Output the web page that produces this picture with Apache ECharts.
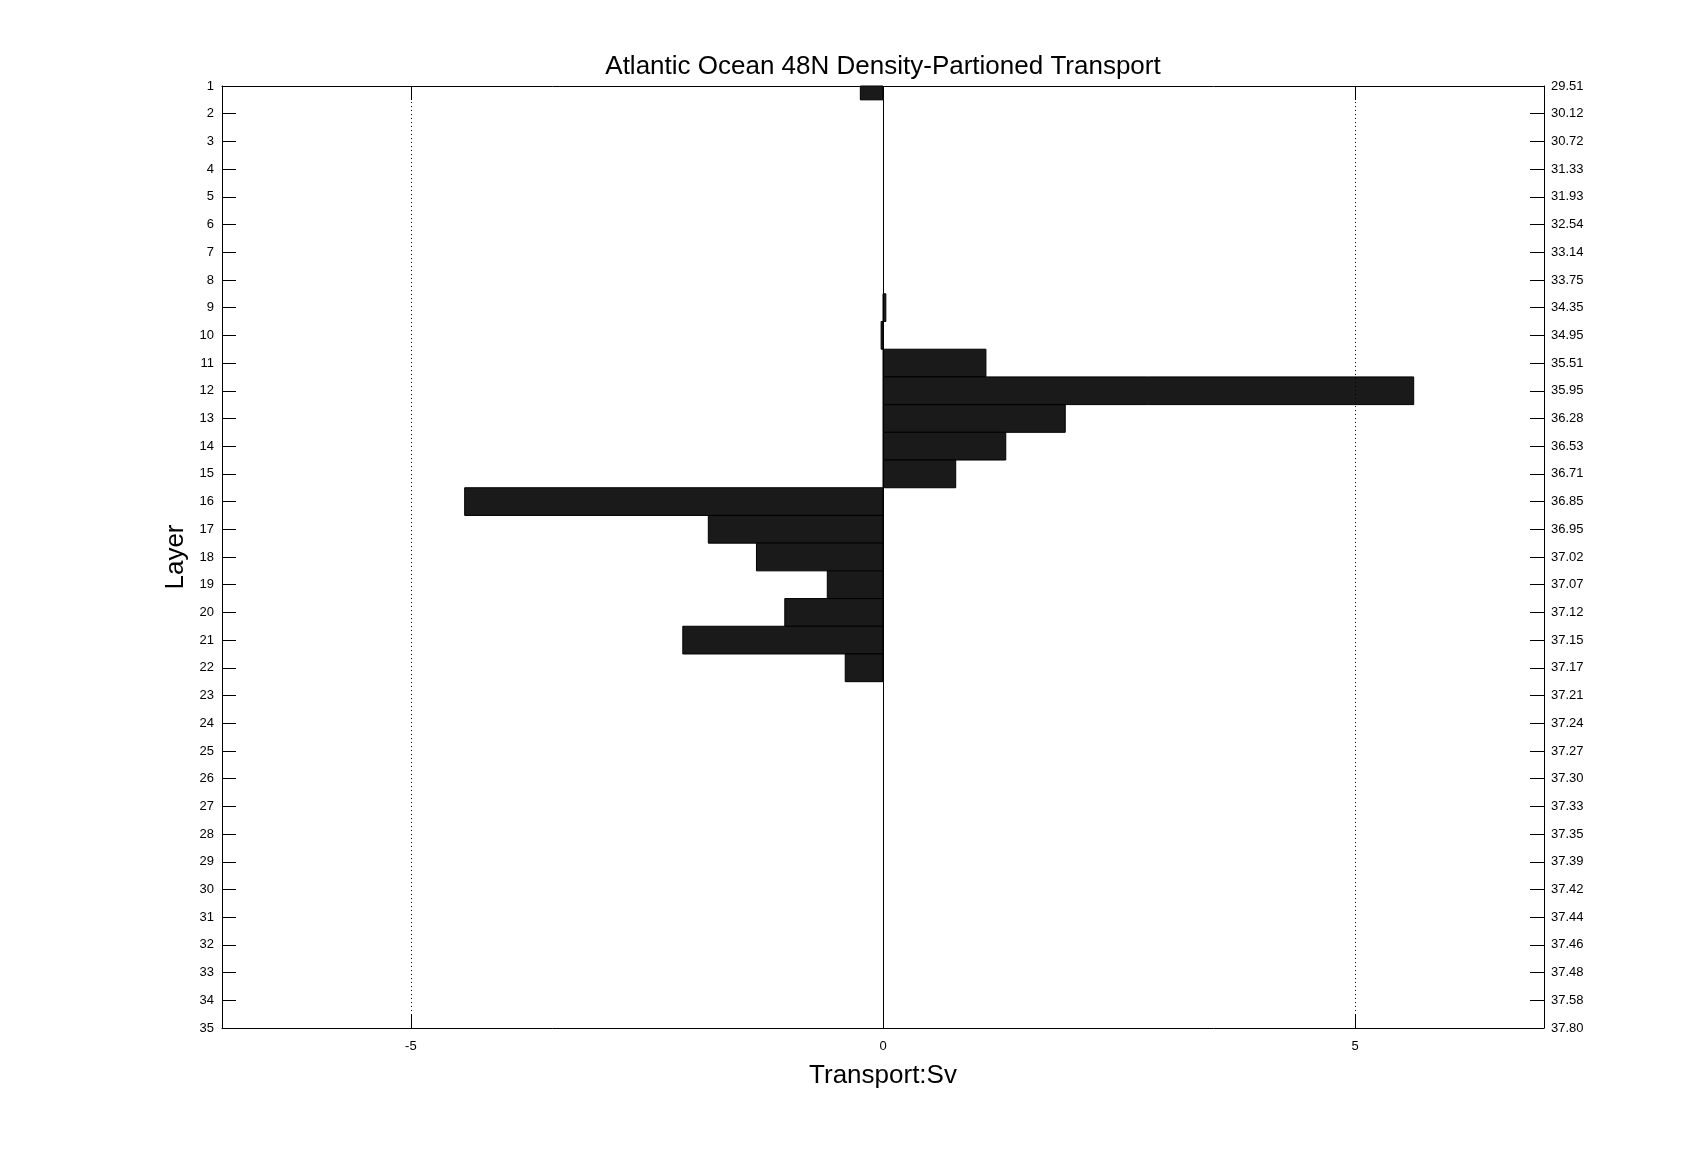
<!DOCTYPE html>
<html>
<head>
<meta charset="utf-8">
<script src="https://cdn.jsdelivr.net/npm/echarts@6/dist/echarts.min.js"></script>
<style>
  html, body { margin: 0; padding: 0; background: #fff; }
  #chart { width: 1707px; height: 1155px; }
</style>
</head>
<body>
<div id="chart"></div>
<script>
const layers = [1, 2, 3, 4, 5, 6, 7, 8, 9, 10, 11, 12, 13, 14, 15, 16, 17, 18,
  19, 20, 21, 22, 23, 24, 25, 26, 27, 28, 29, 30, 31, 32, 33, 34, 35];

// transport (Sv) per layer
const transport = [-0.24, 0, 0, 0, 0, 0, 0, 0, 0.03, -0.02, 1.09, 5.62, 1.93,
  1.30, 0.77, -4.43, -1.85, -1.34, -0.59, -1.04, -2.12, -0.40, 0, 0, 0, 0, 0,
  0, 0, 0, 0, 0, 0, 0, 0];

const densityLabels = ["29.51", "30.12", "30.72", "31.33", "31.93", "32.54",
  "33.14", "33.75", "34.35", "34.95", "35.51", "35.95", "36.28", "36.53",
  "36.71", "36.85", "36.95", "37.02", "37.07", "37.12", "37.15", "37.17",
  "37.21", "37.24", "37.27", "37.30", "37.33", "37.35", "37.39", "37.42",
  "37.44", "37.46", "37.48", "37.58", "37.80"];

const xTicks = [-5, 0, 5];

const font = "Liberation Sans";
const chart = echarts.init(document.getElementById("chart"));

const yAxisBase = {
  type: "value",
  min: 1,
  max: 35,
  interval: 1,
  inverse: true,
  axisLine: { show: true, onZero: false, lineStyle: { color: "#000", width: 1 } },
  axisTick: { show: true, inside: true, length: 14, lineStyle: { color: "#000" } },
  splitLine: { show: false },
};

const xAxisBase = {
  type: "value",
  min: -7,
  max: 7,
  axisLine: { show: true, onZero: false, lineStyle: { color: "#000", width: 1 } },
  axisTick: {
    show: true,
    inside: true,
    length: 14,
    customValues: xTicks,
    lineStyle: { color: "#000" },
  },
  splitLine: { show: false },
};

const option = {
  animation: false,
  backgroundColor: "#fff",
  grid: { left: 222, right: 163, top: 86, bottom: 127 },
  xAxis: [
    Object.assign({}, xAxisBase, {
      position: "bottom",
      name: "Transport:Sv",
      nameLocation: "middle",
      nameGap: 35,
      nameTextStyle: { fontFamily: font, fontSize: 26, color: "#000" },
      axisLabel: {
        customValues: xTicks,
        fontFamily: font,
        fontSize: 13,
        color: "#000",
        margin: 12,
      },
    }),
    Object.assign({}, xAxisBase, {
      position: "top",
      name: "Atlantic Ocean 48N Density-Partioned Transport",
      nameLocation: "middle",
      nameGap: 6,
      nameTextStyle: { fontFamily: font, fontSize: 26, color: "#000" },
      axisLabel: { show: false },
    }),
  ],
  yAxis: [
    Object.assign({}, yAxisBase, {
      position: "left",
      name: "Layer",
      nameLocation: "middle",
      nameGap: 29,
      nameRotate: 90,
      nameTextStyle: { fontFamily: font, fontSize: 26, color: "#000" },
      axisLabel: { fontFamily: font, fontSize: 13, color: "#000", margin: 8 },
    }),
    Object.assign({}, yAxisBase, {
      position: "right",
      axisLabel: {
        fontFamily: font,
        fontSize: 13,
        color: "#000",
        margin: 7,
        formatter: (v) => densityLabels[v - 1] || "",
      },
    }),
  ],
  series: [
    {
      type: "custom",
      xAxisIndex: 0,
      yAxisIndex: 0,
      data: layers.map((k, i) => [transport[i], k]),
      renderItem: function (params, api) {
        const v = api.value(0);
        const k = api.value(1);
        if (!v) return null;
        const p0 = api.coord([0, k - 0.5]);
        const p1 = api.coord([v, k + 0.5]);
        const rect = echarts.graphic.clipRectByRect(
          {
            x: Math.min(p0[0], p1[0]),
            y: Math.min(p0[1], p1[1]),
            width: Math.abs(p1[0] - p0[0]),
            height: Math.abs(p1[1] - p0[1]),
          },
          params.coordSys
        );
        if (!rect) return null;
        return {
          type: "rect",
          shape: rect,
          style: { fill: "#1a1a1a", stroke: "#000", lineWidth: 1 },
        };
      },
      markLine: {
        silent: true,
        symbol: "none",
        label: { show: false },
        data: [
          { xAxis: -5, lineStyle: { type: [1, 3], color: "#000", width: 1 } },
          { xAxis: 5, lineStyle: { type: [1, 3], color: "#000", width: 1 } },
          { xAxis: 0, lineStyle: { type: "solid", color: "#000", width: 1 } },
        ],
      },
      z: 3,
    },
  ],
};

chart.setOption(option);
</script>
</body>
</html>
